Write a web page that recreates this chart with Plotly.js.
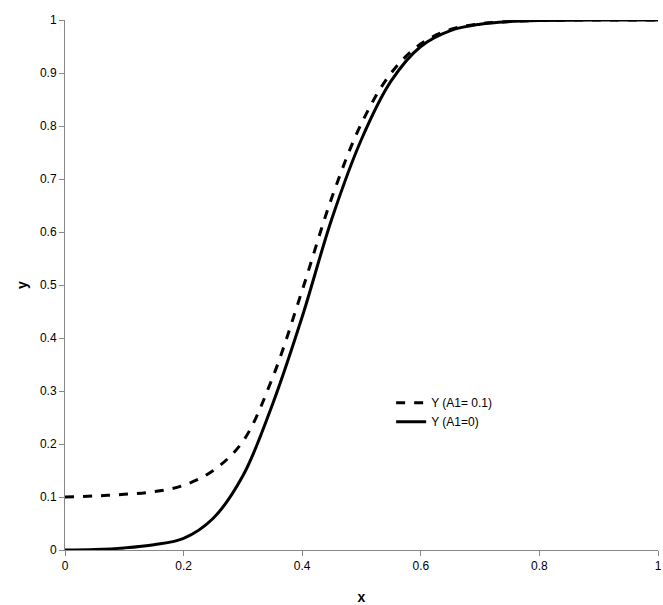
<!DOCTYPE html>
<html>
<head>
<script src="https://cdn.plot.ly/plotly-3.0.1.min.js"></script>
<style>body{margin:0;background:#fff}</style>
</head>
<body>
<div id="chart" style="width:663px;height:605px"></div>
<script>
let xValues = [0, 0.05, 0.1, 0.15, 0.2, 0.25, 0.3, 0.35, 0.4, 0.45, 0.5, 0.55, 0.6, 0.65, 0.7, 0.75, 0.8, 0.9, 1];
let yA1 = [0.1, 0.102, 0.105, 0.11, 0.122, 0.15, 0.205, 0.325, 0.49, 0.665, 0.805, 0.9, 0.955, 0.982, 0.993, 0.997, 0.999, 1, 1];
let yA0 = [0, 0.001, 0.004, 0.01, 0.022, 0.06, 0.14, 0.275, 0.44, 0.625, 0.775, 0.885, 0.95, 0.98, 0.992, 0.997, 0.999, 1, 1];

let traces = [
    {x: xValues, y: yA1, name: 'Y (A1= 0.1)', mode: 'lines', line: {color: '#000', width: 3, dash: 'dash', shape: 'spline'}},
    {x: xValues, y: yA0, name: 'Y (A1=0)', mode: 'lines', line: {color: '#000', width: 3, shape: 'spline'}}
];

let layout = {
    width: 663, height: 605,
    margin: {l: 65, r: 5, t: 20, b: 55},
    font: {family: 'Liberation Sans, Arial', size: 12, color: '#000'},
    plot_bgcolor: '#fff', paper_bgcolor: '#fff',
    showlegend: true,
    legend: {x: 0.55, y: 0.26, xanchor: 'left', yanchor: 'middle', bgcolor: 'rgba(0,0,0,0)', font: {size: 12}},
    xaxis: {
        range: [0, 1], dtick: 0.2, showgrid: false, zeroline: false,
        showline: true, linecolor: '#888', ticks: 'outside', ticklen: 5, tickcolor: '#888',
        title: {text: '<b>x</b>', font: {size: 14}}
    },
    yaxis: {
        range: [0, 1], dtick: 0.1, showgrid: false, zeroline: false,
        showline: true, linecolor: '#888', ticks: 'outside', ticklen: 5, tickcolor: '#888',
        title: {text: '<b>y</b>', font: {size: 14}}
    }
};

Plotly.newPlot('chart', traces, layout, {displayModeBar: false});
</script>
</body>
</html>
